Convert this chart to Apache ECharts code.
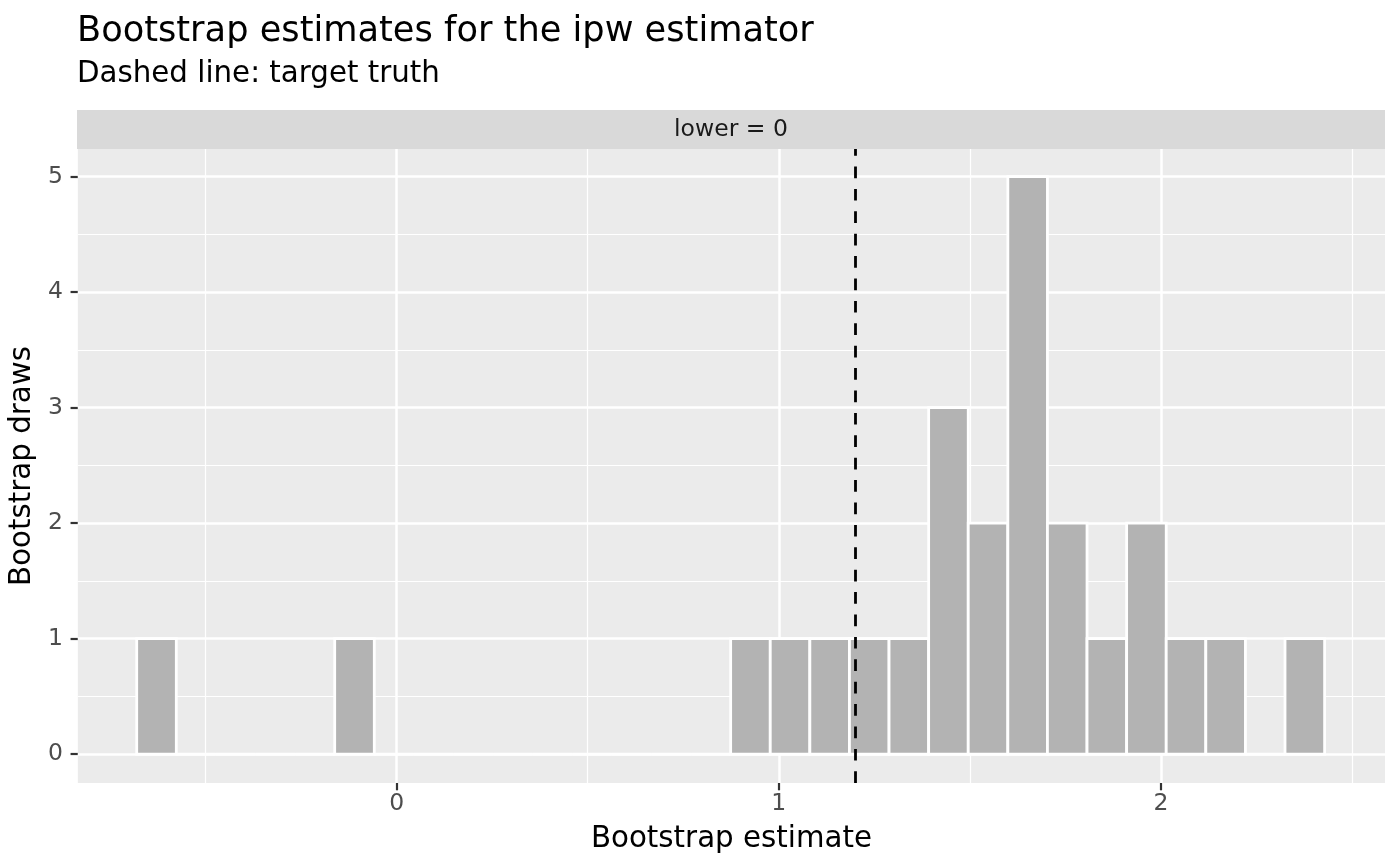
<!DOCTYPE html>
<html>
<head>
<meta charset="utf-8">
<script src="https://cdn.jsdelivr.net/npm/echarts@6/dist/echarts.min.js"></script>
<style>html,body{margin:0;padding:0;background:#fff}#c{width:1400px;height:866px}</style>
</head>
<body>
<div id="c"></div>
<script>
// ---- data ----
const binStart = -0.680;          // left edge of first bin
const binWidth = 0.1036;          // 30 bins
const counts = [1,0,0,0,0,1,0,0,0,0,0,0,0,0,0,1,1,1,1,1,3,2,5,2,1,2,1,1,0,1];
const truth = 1.2;
const xTicks = [0, 1, 2];
const xMinor = [-0.5, 0.5, 1.5, 2.5];
const yTicks = [0, 1, 2, 3, 4, 5];
const yMinor = [0.5, 1.5, 2.5, 3.5, 4.5];
const titleText = 'Bootstrap estimates for the ipw estimator';
const subtitleText = 'Dashed line: target truth';
const stripText = 'lower = 0';
const xTitle = 'Bootstrap estimate';
const yTitle = 'Bootstrap draws';

const bins = counts.map((c, i) => [binStart + i * binWidth, binStart + (i + 1) * binWidth, c]);

const FONT = 'DejaVu Sans';
const G = {left: 77, right: 15, top: 149, bottom: 83};

const chart = echarts.init(document.getElementById('c'), null, {renderer: 'canvas'});
chart.setOption({
  backgroundColor: '#FFFFFF',
  animation: false,
  textStyle: {fontFamily: FONT},
  title: [
    {text: titleText, left: 77, top: 14, padding: 0, textStyle: {fontFamily: FONT, fontSize: 35.2, fontWeight: 'normal', color: '#000'}},
    {text: subtitleText, left: 77, top: 60, padding: 0, textStyle: {fontFamily: FONT, fontSize: 29.3, fontWeight: 'normal', color: '#000'}}
  ],
  graphic: [
    {type: 'rect', shape: {x: 77, y: 110, width: 1308, height: 39}, style: {fill: '#D9D9D9'}, silent: true, z: -1},
    {type: 'text', x: 731, y: 129.5, style: {text: stripText, fontFamily: FONT, fontSize: 23.5, fill: '#1A1A1A', align: 'center', verticalAlign: 'middle'}, silent: true}
  ],
  grid: {left: G.left, right: G.right, top: G.top, bottom: G.bottom, show: true, backgroundColor: '#EBEBEB', borderWidth: 0, containLabel: false},
  xAxis: {
    type: 'value', min: -0.834, max: 2.586,
    name: xTitle, nameLocation: 'middle', nameGap: 42,
    nameTextStyle: {fontFamily: FONT, fontSize: 29.3, color: '#000'},
    axisLine: {show: true, onZero: false, lineStyle: {color: 'rgba(0,0,0,0)', width: 0}},
    axisTick: {show: true, customValues: xTicks, length: 7.3, lineStyle: {color: '#333333', width: 2.2}},
    axisLabel: {customValues: xTicks, fontFamily: FONT, fontSize: 23.5, color: '#4D4D4D', margin: 9},
    splitLine: {show: false}
  },
  yAxis: {
    type: 'value', min: -0.25, max: 5.24,
    name: yTitle, nameLocation: 'middle', nameGap: 29, nameRotate: 90,
    nameTextStyle: {fontFamily: FONT, fontSize: 29.3, color: '#000'},
    axisLine: {show: true, onZero: false, lineStyle: {color: 'rgba(0,0,0,0)', width: 0}},
    axisTick: {show: true, customValues: yTicks, length: 7.3, lineStyle: {color: '#333333', width: 2.2}},
    axisLabel: {customValues: yTicks, fontFamily: FONT, fontSize: 23.5, color: '#4D4D4D', margin: 15},
    splitLine: {show: false}
  },
  series: [
    {
      type: 'line', data: [], z: 1, silent: true,
      markLine: {
        silent: true, symbol: 'none', animation: false, label: {show: false}, z: 1,
        data: [
          ...xMinor.map(v => ({xAxis: v, lineStyle: {color: '#FFFFFF', width: 1.2, type: 'solid'}})),
          ...yMinor.map(v => ({yAxis: v, lineStyle: {color: '#FFFFFF', width: 1.2, type: 'solid'}})),
          ...xTicks.map(v => ({xAxis: v, lineStyle: {color: '#FFFFFF', width: 2.5, type: 'solid'}})),
          ...yTicks.map(v => ({yAxis: v, lineStyle: {color: '#FFFFFF', width: 2.5, type: 'solid'}}))
        ]
      }
    },
    {
      type: 'custom', z: 3, silent: true,
      data: bins,
      encode: {x: [0, 1], y: 2},
      renderItem: function (params, api) {
        const p0 = api.coord([api.value(0), 0]);
        const p1 = api.coord([api.value(1), api.value(2)]);
        return {
          type: 'rect',
          shape: {x: p0[0], y: p1[1], width: p1[0] - p0[0], height: p0[1] - p1[1]},
          style: {fill: '#B3B3B3', stroke: '#FFFFFF', lineWidth: 2.8}
        };
      }
    },
    {
      type: 'line', data: [], z: 10, silent: true,
      markLine: {
        silent: true, symbol: 'none', animation: false, label: {show: false}, z: 10,
        data: [{xAxis: truth, lineStyle: {color: '#000000', width: 2.8, type: [11.7, 10.7]}}]
      }
    }
  ]
});
</script>
</body>
</html>
